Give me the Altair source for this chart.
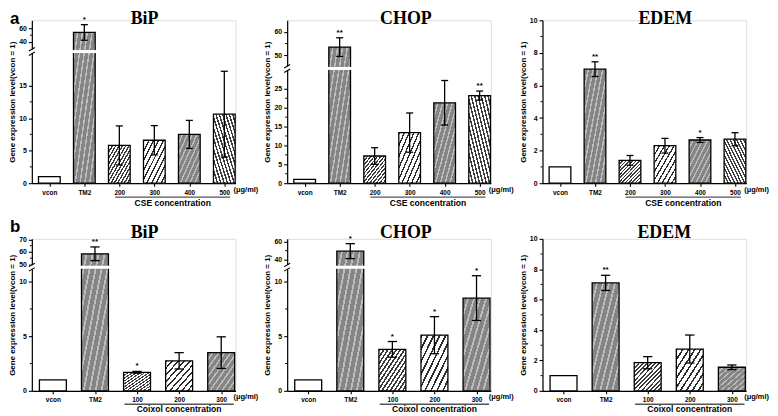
import json
import altair as alt
import pandas as pd

# ---------------- data ----------------
CATS_A = ["vcon", "TM2", "200", "300", "400", "500"]
CATS_B = ["vcon", "TM2", "100", "200", "300"]

A_BIP_MEAN = [1.0, 54.0, 5.8, 6.6, 7.5, 10.6]
A_BIP_SD = [0.0, 11.5, 3.0, 2.25, 2.15, 6.6]
A_BIP_SIG = ["", "*", "", "", "", ""]

A_CHOP_MEAN = [1.0, 53.5, 7.2, 13.4, 21.3, 23.2]
A_CHOP_SD = [0.0, 4.0, 2.2, 5.2, 5.9, 1.2]
A_CHOP_SIG = ["", "**", "", "", "", "**"]

A_EDEM_MEAN = [1.0, 7.0, 1.4, 2.3, 2.65, 2.7]
A_EDEM_SD = [0.0, 0.45, 0.3, 0.45, 0.15, 0.4]
A_EDEM_SIG = ["", "**", "", "", "*", ""]

B_BIP_MEAN = [1.0, 58.5, 1.7, 2.75, 3.5]
B_BIP_SD = [0.0, 5.5, 0.08, 0.75, 1.45]
B_BIP_SIG = ["", "**", "*", "", ""]

B_CHOP_MEAN = [1.0, 49.5, 3.8, 5.1, 8.5]
B_CHOP_SD = [0.0, 8.5, 0.72, 1.7, 2.05]
B_CHOP_SIG = ["", "*", "*", "*", "*"]

B_EDEM_MEAN = [1.0, 7.1, 1.85, 2.75, 1.55]
B_EDEM_SD = [0.0, 0.5, 0.4, 0.92, 0.15]
B_EDEM_SIG = ["", "**", "", "", ""]

# tick labels of the (broken) y axes
A_BIP_TICKS = [0, 5, 10, 15, 40, 60]
A_CHOP_TICKS = [0, 5, 10, 15, 20, 25, 50, 60]
A_EDEM_TICKS = [0, 2, 4, 6, 8, 10]
B_BIP_TICKS = [0, 5, 10, 50, 60, 70]
B_CHOP_TICKS = [0, 5, 10, 40, 60]
B_EDEM_TICKS = [0, 2, 4, 6, 8, 10]

# ---------------- styling ----------------
SANS = "Liberation Sans"
SERIF = "Liberation Serif"
W = 205
H_A = 164
H_B = 153


def stripes(c1, c2, n, duty, direction):
    stops = []
    for k in range(n):
        a = k / n
        b = (k + duty) / n
        c = (k + 1) / n
        stops += [
            alt.GradientStop(color=c1, offset=a),
            alt.GradientStop(color=c1, offset=b),
            alt.GradientStop(color=c2, offset=b),
            alt.GradientStop(color=c2, offset=min(c, 1.0)),
        ]
    if direction == "/":
        x1, y1, x2, y2 = 0, 0, 1, 1
    else:
        x1, y1, x2, y2 = 0, 1, 1, 0
    return alt.LinearGradient(gradient="linear", stops=stops, x1=x1, y1=y1, x2=x2, y2=y2)


PAT = {
    "white": "white",
    "dark": stripes("#858585", "#bdbdbd", 9, 0.7, "/"),
    "dense": stripes("#3c3c3c", "#ffffff", 13, 0.45, "/"),
    "denseb": stripes("#3c3c3c", "#ffffff", 13, 0.45, "\\"),
    "wide": stripes("#2c2c2c", "#ffffff", 9, 0.3, "/"),
}
STYLE_A = ["white", "dark", "dense", "wide", "dark", "denseb"]
STYLE_B = ["white", "dark", "dense", "wide", "dark"]


def panel(title, cats, means, sds, sigs, styles, ticks, H, brk, ymax, conc,
          xpad, hw, cap, ul, title_dx, title_y, letter=None, letter_y=-3,
          ul_y=-14.0, cap_y=-20.0):
    n = len(cats)
    xmin, xmax = -0.5, n - 1 + xpad
    ppu = W / (xmax - xmin)

    if brk:
        L, hL, g, U0, U1, hU = brk

        def dv(v):
            return v * hL / L if v <= L else hL + g + (v - U0) * hU / (U1 - U0)

        def dexpr(f):
            return (f"datum.{f} <= {L} ? datum.{f} * {hL / L} : "
                    f"{hL + g} + (datum.{f} - {U0}) * {hU / (U1 - U0)}")

        lab = (f"datum.value <= {hL + 0.5} ? round(datum.value * {L / hL}) : "
               f"round({U0} + (datum.value - {hL + g}) * {(U1 - U0) / hU})")

        def same_seg(a, b):
            return (a <= L) == (b <= L)
    else:
        def dv(v):
            return v * H / ymax

        def dexpr(f):
            return f"datum.{f} * {H / ymax}"

        lab = f"round(datum.value * {ymax / H})"

        def same_seg(a, b):
            return True

    minor = [(a + b) / 2 for a, b in zip(ticks[:-1], ticks[1:]) if same_seg(a, b)]

    df = pd.DataFrame({"i": list(range(n)), "cat": cats, "v": means,
                       "sd": sds, "sig": sigs})
    base = (alt.Chart(df)
            .transform_calculate(lo="datum.v - datum.sd", hi="datum.v + datum.sd")
            .transform_calculate(yv=dexpr("v"), ylo=dexpr("lo"), yhi=dexpr("hi"),
                                 xl=f"datum.i - {hw}", xr=f"datum.i + {hw}",
                                 cl=f"datum.i - {cap}", cr=f"datum.i + {cap}",
                                 gl=f"datum.i - {hw + 0.06}", gr=f"datum.i + {hw + 0.06}",
                                 y0="0"))

    xscale = alt.Scale(domain=[xmin, xmax], nice=False, zero=False)
    yscale = alt.Scale(domain=[0, H], nice=False, zero=False)
    xaxis = alt.Axis(values=list(range(n)), labelExpr=f"{json.dumps(cats)}[datum.value]",
                     title=None, grid=False, domainColor="black", domainWidth=1.2,
                     tickColor="black", tickWidth=1.1, tickSize=3, labelFont=SANS,
                     labelFontSize=6.5, labelFontWeight="bold", labelColor="black",
                     labelPadding=3, labelFlush=False)
    yaxis = alt.Axis(values=[dv(t) for t in ticks], labelExpr=lab,
                     title="Gene expression level(vcon = 1)", titleFont=SANS,
                     titleFontSize=8, titleFontWeight="bold", titleColor="black",
                     titlePadding=2, grid=False, domainColor="black", domainWidth=1.2,
                     tickColor="black", tickWidth=1.1, tickSize=3.5, labelFont=SANS,
                     labelFontSize=7, labelFontWeight="bold", labelColor="black",
                     labelPadding=2, labelFlush=False)

    def X(f):
        return alt.X(f, scale=xscale, axis=xaxis)

    def Y(f):
        return alt.Y(f, scale=yscale, axis=yaxis)

    layers = []
    for key in ["white", "dark", "dense", "denseb", "wide"]:
        idxs = [k for k, s in enumerate(styles) if s == key]
        if not idxs:
            continue
        layers.append(
            base.transform_filter(alt.FieldOneOfPredicate(field="i", oneOf=idxs))
            .mark_rect(fill=PAT[key], stroke="black", strokeWidth=1.3)
            .encode(x=X("xl:Q"), x2="xr:Q", y=Y("yv:Q"), y2="y0:Q"))

    if brk:
        layers.append(
            base.transform_filter(f"datum.v > {L}")
            .transform_calculate(g1=f"{hL}", g2=f"{hL + g}")
            .mark_rect(fill="white", strokeWidth=0)
            .encode(x=X("gl:Q"), x2="gr:Q", y=Y("g1:Q"), y2="g2:Q"))

    eb = base.transform_filter("datum.sd > 0")
    layers.append(eb.mark_rule(color="black", strokeWidth=1.3)
                  .encode(x=X("i:Q"), y=Y("ylo:Q"), y2="yhi:Q"))
    for f in ["yhi", "ylo"]:
        layers.append(eb.mark_rule(color="black", strokeWidth=1.3)
                      .encode(x=X("cl:Q"), x2="cr:Q", y=Y(f"{f}:Q")))
    layers.append(base.transform_filter("datum.sig != ''")
                  .mark_text(font=SANS, fontSize=8, fontWeight="bold", baseline="bottom",
                             dy=-1, color="black")
                  .encode(x=X("i:Q"), y=Y("yhi:Q"), text="sig:N"))

    # minor ticks of the y axis
    mdf = pd.DataFrame({"m": minor})
    layers.append(alt.Chart(mdf)
                  .transform_calculate(my=dexpr("m"), mx1=f"{xmin - 2.0 / ppu}",
                                       mx2=f"{xmin}")
                  .mark_rule(color="black", strokeWidth=1.0)
                  .encode(x=X("mx1:Q"), x2="mx2:Q", y=Y("my:Q")))

    if brk:
        d = 3.0 / ppu
        bdf = pd.DataFrame({
            "x1": [xmin - d, xmin - d], "x2": [xmin + d, xmin + d],
            "y1": [hL - 2.5, hL + g - 1.0], "y2": [hL + 1.0, hL + g + 2.5],
        })
        gdf = pd.DataFrame({"x1": [xmin - 1.8 / ppu], "x2": [xmin + 1.8 / ppu],
                            "y1": [hL - 0.5], "y2": [hL + g + 0.5]})
        layers.append(alt.Chart(gdf).mark_rect(fill="white")
                      .encode(x=X("x1:Q"), x2="x2:Q", y=Y("y1:Q"), y2="y2:Q"))
        layers.append(alt.Chart(bdf).mark_rule(color="black", strokeWidth=1.1)
                      .encode(x=X("x1:Q"), x2="x2:Q", y=Y("y1:Q"), y2="y2:Q"))

    # unit label, underline and concentration caption below the x axis
    udf = pd.DataFrame({"x": [xmax], "y": [-6.5], "t": ["(μg/ml)"]})
    layers.append(alt.Chart(udf).mark_text(font=SANS, fontSize=7.5, fontWeight="bold",
                                           align="left", baseline="middle", dx=-2,
                                           color="black")
                  .encode(x=X("x:Q"), y=Y("y:Q"), text="t:N"))
    ldf = pd.DataFrame({"x1": [ul[0]], "x2": [ul[1]], "y": [ul_y]})
    layers.append(alt.Chart(ldf).mark_rule(color="#555555", strokeWidth=1.4)
                  .encode(x=X("x1:Q"), x2="x2:Q", y=Y("y:Q")))
    cdf = pd.DataFrame({"x": [(ul[0] + ul[1]) / 2], "y": [cap_y], "t": [conc]})
    layers.append(alt.Chart(cdf).mark_text(font=SANS, fontSize=8.6, fontWeight="bold",
                                           baseline="middle", color="black")
                  .encode(x=X("x:Q"), y=Y("y:Q"), text="t:N"))

    # panel title (gene name) and panel letter
    layers.append(alt.Chart(alt.Data(values=[{}]))
                  .mark_text(text=title, font=SERIF, fontSize=18, fontWeight="bold",
                             align="center", baseline="alphabetic", color="black")
                  .encode(x=alt.value(W / 2 + title_dx), y=alt.value(title_y)))
    if letter:
        layers.append(alt.Chart(alt.Data(values=[{}]))
                      .mark_text(text=letter, font=SANS, fontSize=17, fontWeight="bold",
                                 align="left", baseline="alphabetic", color="black")
                      .encode(x=alt.value(-22), y=alt.value(letter_y)))

    return alt.layer(*layers).properties(width=W, height=H)


pa1 = panel("BiP", CATS_A, A_BIP_MEAN, A_BIP_SD, A_BIP_SIG, STYLE_A, A_BIP_TICKS, H_A,
            (20, 131, 3, 28, 72, 30), None, "CSE concentration", 0.32, 0.31, 0.1,
            (1.88, 5.17), 11, 4, letter="a", letter_y=4)
pa2 = panel("CHOP", CATS_A, A_CHOP_MEAN, A_CHOP_SD, A_CHOP_SIG, STYLE_A, A_CHOP_TICKS, H_A,
            (30, 114, 3, 45, 65, 47), None, "CSE concentration", 0.32, 0.31, 0.1,
            (1.88, 5.17), 17, 4)
pa3 = panel("EDEM", CATS_A, A_EDEM_MEAN, A_EDEM_SD, A_EDEM_SIG, STYLE_A, A_EDEM_TICKS, H_A,
            None, 10, "CSE concentration", 0.32, 0.31, 0.1, (1.88, 5.17), 21, 4)

pb1 = panel("BiP", CATS_B, B_BIP_MEAN, B_BIP_SD, B_BIP_SIG, STYLE_B, B_BIP_TICKS, H_B,
            (11.2, 123, 3, 49, 70.5, 27), None, "Coixol concentration", 0.34, 0.32, 0.11,
            (1.7, 4.3), 11, -1, letter="b", letter_y=-7, ul_y=-13.5, cap_y=-18.5)
pb2 = panel("CHOP", CATS_B, B_CHOP_MEAN, B_CHOP_SD, B_CHOP_SIG, STYLE_B, B_CHOP_TICKS, H_B,
            (11.2, 123, 3, 33, 63.5, 27), None, "Coixol concentration", 0.34, 0.32, 0.11,
            (1.7, 4.3), 17, -1, ul_y=-13.5, cap_y=-18.5)
pb3 = panel("EDEM", CATS_B, B_EDEM_MEAN, B_EDEM_SD, B_EDEM_SIG, STYLE_B, B_EDEM_TICKS, H_B,
            None, 10, "Coixol concentration", 0.34, 0.32, 0.11, (1.7, 4.3), 20, -1,
            ul_y=-13.5, cap_y=-18.5)

chart = (alt.concat(pa1, pa2, pa3, pb1, pb2, pb3, columns=3,
                    spacing={"row": 56, "column": 52}, bounds="flush", padding=0)
         .configure_view(strokeWidth=0)
         .configure(background="white"))

chart.save("out.html", embed_options={"renderer": "svg", "actions": False})
